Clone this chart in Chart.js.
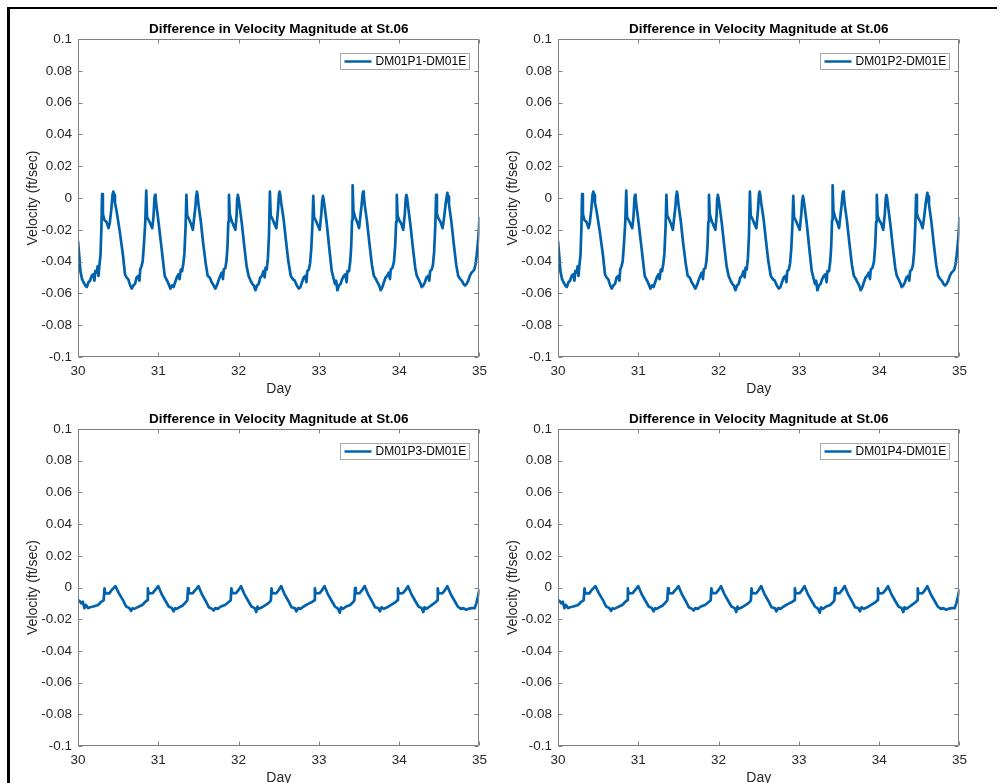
<!DOCTYPE html>
<html><head><meta charset="utf-8">
<script src="https://cdn.jsdelivr.net/npm/chart.js@4.4.1/dist/chart.umd.min.js"></script>
<style>
html,body{margin:0;padding:0;background:#fff;width:1000px;height:783px;overflow:hidden;position:relative;}
.frame{position:absolute;left:7px;top:7px;width:990px;height:800px;border-left:3px solid #000;border-top:2px solid #000;box-sizing:border-box;}
.panel{position:absolute;width:493px;height:388px;}
</style></head><body>
<div class="frame"></div>
<div class="panel" style="left:0;top:12px"><canvas id="c1"></canvas></div>
<div class="panel" style="left:480px;top:12px"><canvas id="c2"></canvas></div>
<div class="panel" style="left:0;top:402px;height:387px"><canvas id="c3"></canvas></div>
<div class="panel" style="left:480px;top:402px;height:387px"><canvas id="c4"></canvas></div>
<script>
// ---------------- DATA ----------------
const chartTitle = 'Difference in Velocity Magnitude at St.06';
const xAxisTitle = 'Day';
const yAxisTitle = 'Velocity (ft/sec)';
const seriesLabels = ['DM01P1-DM01E', 'DM01P2-DM01E', 'DM01P3-DM01E', 'DM01P4-DM01E'];
const xTickValues = [30, 31, 32, 33, 34, 35];
const xTickLabels = ['30', '31', '32', '33', '34', '35'];
const yTickValues = [-0.1, -0.08, -0.06, -0.04, -0.02, 0, 0.02, 0.04, 0.06, 0.08, 0.1];
const yTickLabels = ['-0.1', '-0.08', '-0.06', '-0.04', '-0.02', '0', '0.02', '0.04', '0.06', '0.08', '0.1'];

// time (day) for the upper panels
const dayTop = [
30.000,30.015,30.030,30.050,30.070,30.090,30.110,30.130,30.150,30.170,30.190,30.205,30.215,30.230,30.245,30.255,30.265,30.280,30.292,30.300,
30.310,30.330,30.355,30.380,30.395,30.415,30.430,30.440,30.450,30.460,30.480,30.520,30.560,30.585,30.605,30.625,30.650,30.670,30.690,30.710,30.730,30.750,30.765,30.775,30.790,30.805,30.820,30.838,30.850,
30.860,30.880,30.900,30.925,30.940,30.952,30.960,30.967,30.975,31.000,31.030,31.060,31.080,31.100,31.120,31.150,31.170,31.190,31.210,31.230,31.250,31.265,31.280,31.295,31.310,31.325,31.340,31.350,
31.360,31.380,31.405,31.430,31.450,31.465,31.473,31.480,31.489,31.500,31.530,31.560,31.590,31.615,31.640,31.665,31.690,31.710,31.730,31.750,31.770,31.790,31.805,31.815,31.835,31.850,31.862,31.872,31.880,
31.890,31.910,31.935,31.960,31.975,31.983,31.990,31.999,32.010,32.040,32.070,32.100,32.125,32.150,32.170,32.190,32.210,32.230,32.250,32.270,32.290,32.310,32.325,32.335,32.350,32.365,32.378,32.390,
32.400,32.420,32.445,32.470,32.490,32.502,32.510,32.519,32.530,32.560,32.590,32.620,32.650,32.675,32.700,32.725,32.750,32.770,32.790,32.810,32.830,32.845,32.855,32.875,32.890,32.905,32.920,32.930,
32.940,32.960,32.985,33.010,33.030,33.042,33.050,33.059,33.070,33.100,33.130,33.160,33.180,33.200,33.215,33.230,33.250,33.270,33.290,33.310,33.330,33.345,33.355,33.375,33.390,33.403,33.413,33.420,
33.430,33.450,33.475,33.500,33.520,33.535,33.543,33.550,33.559,33.570,33.600,33.630,33.660,33.685,33.710,33.730,33.750,33.770,33.790,33.810,33.830,33.850,33.870,33.885,33.895,33.915,33.935,33.950,33.962,33.970,
33.980,34.000,34.025,34.050,34.070,34.082,34.090,34.099,34.110,34.140,34.170,34.200,34.220,34.240,34.260,34.280,34.300,34.320,34.340,34.360,34.375,34.385,34.405,34.420,34.435,34.450,34.460,
34.470,34.490,34.515,34.540,34.560,34.580,34.592,34.600,34.609,34.620,34.650,34.680,34.710,34.735,34.760,34.780,34.800,34.820,34.840,34.860,34.880,34.900,34.920,34.935,34.950,34.965,34.980,34.990,35.000
];
const velP1 = [
-0.027,-0.036,-0.046,-0.051,-0.053,-0.055,-0.056,-0.053,-0.052,-0.049,-0.048,-0.052,-0.046,-0.047,-0.043,-0.049,-0.043,-0.036,-0.018,0.0025,
-0.010,-0.014,-0.015,-0.019,-0.016,-0.007,0.002,0.004,0.002,-0.003,-0.008,-0.021,-0.036,-0.048,-0.050,-0.051,-0.055,-0.057,-0.055,-0.054,-0.050,-0.049,-0.052,-0.045,-0.043,-0.040,-0.030,-0.015,0.0046,
-0.012,-0.014,-0.016,-0.019,-0.012,0.000,0.002,0.000,-0.004,-0.014,-0.027,-0.040,-0.049,-0.051,-0.053,-0.057,-0.055,-0.056,-0.053,-0.050,-0.048,-0.051,-0.045,-0.046,-0.042,-0.035,-0.018,0.002,
-0.011,-0.013,-0.016,-0.020,-0.011,-0.004,0.002,0.004,0.002,-0.004,-0.015,-0.029,-0.041,-0.049,-0.050,-0.053,-0.055,-0.057,-0.055,-0.052,-0.049,-0.047,-0.051,-0.045,-0.044,-0.039,-0.030,-0.015,0.002,
-0.010,-0.014,-0.017,-0.020,-0.011,0.000,0.002,0.000,-0.004,-0.016,-0.030,-0.043,-0.049,-0.052,-0.054,-0.055,-0.058,-0.055,-0.054,-0.050,-0.049,-0.046,-0.050,-0.044,-0.045,-0.038,-0.024,0.004,
-0.011,-0.013,-0.016,-0.019,-0.008,0.002,0.004,0.002,-0.003,-0.013,-0.027,-0.040,-0.049,-0.051,-0.052,-0.055,-0.057,-0.056,-0.053,-0.050,-0.049,-0.053,-0.046,-0.045,-0.041,-0.032,-0.016,0.0013,
-0.012,-0.014,-0.017,-0.020,-0.010,-0.001,0.0013,-0.001,-0.005,-0.017,-0.032,-0.046,-0.050,-0.054,-0.052,-0.058,-0.055,-0.054,-0.051,-0.049,-0.048,-0.053,-0.046,-0.046,-0.040,-0.030,-0.014,0.008,
-0.008,-0.012,-0.015,-0.019,-0.010,-0.003,0.002,0.004,0.002,-0.004,-0.015,-0.029,-0.042,-0.049,-0.051,-0.053,-0.055,-0.058,-0.056,-0.053,-0.050,-0.049,-0.047,-0.051,-0.045,-0.044,-0.040,-0.030,-0.015,0.002,
-0.011,-0.014,-0.016,-0.020,-0.010,0.000,0.002,0.000,-0.005,-0.017,-0.031,-0.044,-0.049,-0.051,-0.053,-0.056,-0.055,-0.053,-0.050,-0.049,-0.052,-0.046,-0.045,-0.042,-0.034,-0.017,0.002,
-0.010,-0.013,-0.015,-0.019,-0.012,-0.003,0.001,0.0033,0.001,-0.004,-0.015,-0.029,-0.042,-0.049,-0.051,-0.052,-0.054,-0.055,-0.054,-0.052,-0.049,-0.047,-0.046,-0.045,-0.042,-0.036,-0.028,-0.022,-0.012
];
const velP2 = [
-0.027,-0.036,-0.046,-0.051,-0.053,-0.055,-0.056,-0.053,-0.052,-0.049,-0.048,-0.052,-0.046,-0.047,-0.043,-0.049,-0.043,-0.036,-0.018,0.0025,
-0.010,-0.014,-0.015,-0.019,-0.016,-0.007,0.002,0.004,0.002,-0.003,-0.008,-0.021,-0.036,-0.048,-0.050,-0.051,-0.055,-0.057,-0.055,-0.054,-0.050,-0.049,-0.052,-0.045,-0.043,-0.040,-0.030,-0.015,0.0046,
-0.012,-0.014,-0.016,-0.019,-0.012,0.000,0.002,0.000,-0.004,-0.014,-0.027,-0.040,-0.049,-0.051,-0.053,-0.057,-0.055,-0.056,-0.053,-0.050,-0.048,-0.051,-0.045,-0.046,-0.042,-0.035,-0.018,0.002,
-0.011,-0.013,-0.016,-0.020,-0.011,-0.004,0.002,0.004,0.002,-0.004,-0.015,-0.029,-0.041,-0.049,-0.050,-0.053,-0.055,-0.057,-0.055,-0.052,-0.049,-0.047,-0.051,-0.045,-0.044,-0.039,-0.030,-0.015,0.002,
-0.010,-0.014,-0.017,-0.020,-0.011,0.000,0.002,0.000,-0.004,-0.016,-0.030,-0.043,-0.049,-0.052,-0.054,-0.055,-0.058,-0.055,-0.054,-0.050,-0.049,-0.046,-0.050,-0.044,-0.045,-0.038,-0.024,0.004,
-0.011,-0.013,-0.016,-0.019,-0.008,0.002,0.004,0.002,-0.003,-0.013,-0.027,-0.040,-0.049,-0.051,-0.052,-0.055,-0.057,-0.056,-0.053,-0.050,-0.049,-0.053,-0.046,-0.045,-0.041,-0.032,-0.016,0.0013,
-0.012,-0.014,-0.017,-0.020,-0.010,-0.001,0.0013,-0.001,-0.005,-0.017,-0.032,-0.046,-0.050,-0.054,-0.052,-0.058,-0.055,-0.054,-0.051,-0.049,-0.048,-0.053,-0.046,-0.046,-0.040,-0.030,-0.014,0.008,
-0.008,-0.012,-0.015,-0.019,-0.010,-0.003,0.002,0.004,0.002,-0.004,-0.015,-0.029,-0.042,-0.049,-0.051,-0.053,-0.055,-0.058,-0.056,-0.053,-0.050,-0.049,-0.047,-0.051,-0.045,-0.044,-0.040,-0.030,-0.015,0.002,
-0.011,-0.014,-0.016,-0.020,-0.010,0.000,0.002,0.000,-0.005,-0.017,-0.031,-0.044,-0.049,-0.051,-0.053,-0.056,-0.055,-0.053,-0.050,-0.049,-0.052,-0.046,-0.045,-0.042,-0.034,-0.017,0.002,
-0.010,-0.013,-0.015,-0.019,-0.012,-0.003,0.001,0.0033,0.001,-0.004,-0.015,-0.029,-0.042,-0.049,-0.051,-0.052,-0.054,-0.055,-0.054,-0.052,-0.049,-0.047,-0.046,-0.045,-0.042,-0.036,-0.028,-0.022,-0.012
];

// time (day) for the lower panels
const dayBottom = [
30.000,30.020,30.040,30.060,30.080,30.100,30.125,30.150,30.190,30.220,30.250,30.290,30.320,
30.330,30.340,30.390,30.420,30.440,30.465,30.510,30.560,30.600,30.640,30.660,30.680,30.700,30.720,30.760,30.800,30.840,30.860,
30.870,30.880,30.930,30.960,30.980,31.000,31.040,31.090,31.130,31.170,31.190,31.210,31.230,31.260,31.300,31.340,31.362,
31.370,31.380,31.430,31.460,31.480,31.500,31.540,31.590,31.630,31.670,31.690,31.710,31.740,31.780,31.830,31.880,31.902,
31.910,31.920,31.970,32.000,32.030,32.070,32.120,32.160,32.200,32.220,32.235,32.250,32.290,32.340,32.390,32.402,
32.410,32.420,32.470,32.500,32.530,32.570,32.620,32.660,32.700,32.720,32.740,32.770,32.810,32.860,32.920,32.942,
32.950,32.960,33.010,33.040,33.070,33.110,33.160,33.200,33.240,33.260,33.275,33.300,33.340,33.390,33.430,33.442,
33.450,33.460,33.510,33.540,33.570,33.610,33.660,33.700,33.740,33.760,33.780,33.810,33.850,33.900,33.960,33.978,
33.985,33.995,34.045,34.080,34.110,34.150,34.200,34.240,34.280,34.300,34.315,34.340,34.380,34.420,34.460,34.474,
34.480,34.490,34.540,34.570,34.600,34.640,34.690,34.730,34.770,34.800,34.830,34.860,34.900,34.940,34.960,34.980,35.000
];
const velP3 = [
-0.008,-0.0085,-0.010,-0.009,-0.013,-0.011,-0.013,-0.0125,-0.012,-0.0115,-0.011,-0.009,-0.008,
-0.0005,-0.0037,-0.0037,-0.0016,-0.0005,0.0009,-0.0037,-0.008,-0.012,-0.013,-0.0148,-0.013,-0.0135,-0.013,-0.012,-0.011,-0.009,-0.008,
-0.0005,-0.0037,-0.0035,-0.0016,-0.0004,0.0008,-0.004,-0.0085,-0.012,-0.013,-0.015,-0.013,-0.0135,-0.0125,-0.0115,-0.0095,-0.008,
-0.0006,-0.0038,-0.0036,-0.0017,-0.0005,0.0009,-0.004,-0.0085,-0.0125,-0.0135,-0.0145,-0.013,-0.0135,-0.012,-0.011,-0.009,-0.008,
-0.0005,-0.0036,-0.0035,-0.0015,0.0008,-0.004,-0.0085,-0.012,-0.013,-0.0155,-0.012,-0.0135,-0.0125,-0.011,-0.009,-0.008,
-0.0006,-0.0037,-0.0036,-0.0016,0.0009,-0.004,-0.0085,-0.0125,-0.013,-0.015,-0.013,-0.0135,-0.012,-0.0105,-0.009,-0.008,
-0.0005,-0.0037,-0.0035,-0.0016,0.0008,-0.004,-0.0085,-0.012,-0.0135,-0.016,-0.0125,-0.0135,-0.012,-0.011,-0.009,-0.008,
-0.0004,-0.0037,-0.0035,-0.0015,0.0009,-0.004,-0.0085,-0.0125,-0.013,-0.015,-0.0125,-0.0135,-0.0125,-0.011,-0.009,-0.008,
-0.0006,-0.0037,-0.0035,-0.0016,0.0008,-0.004,-0.0085,-0.012,-0.013,-0.0155,-0.0125,-0.0135,-0.012,-0.0105,-0.009,-0.008,
-0.0005,-0.0037,-0.0035,-0.0016,0.0008,-0.004,-0.0085,-0.012,-0.0135,-0.013,-0.014,-0.0135,-0.013,-0.013,-0.010,-0.006,-0.001
];
const velP4 = [
-0.008,-0.0085,-0.010,-0.009,-0.013,-0.011,-0.013,-0.0125,-0.012,-0.0115,-0.011,-0.009,-0.008,
-0.0005,-0.0037,-0.0037,-0.0016,-0.0005,0.0009,-0.0037,-0.008,-0.012,-0.013,-0.0148,-0.013,-0.0135,-0.013,-0.012,-0.011,-0.009,-0.008,
-0.0005,-0.0037,-0.0035,-0.0016,-0.0004,0.0008,-0.004,-0.0085,-0.012,-0.013,-0.015,-0.013,-0.0135,-0.0125,-0.0115,-0.0095,-0.008,
-0.0006,-0.0038,-0.0036,-0.0017,-0.0005,0.0009,-0.004,-0.0085,-0.0125,-0.0135,-0.0145,-0.013,-0.0135,-0.012,-0.011,-0.009,-0.008,
-0.0005,-0.0036,-0.0035,-0.0015,0.0008,-0.004,-0.0085,-0.012,-0.013,-0.0155,-0.012,-0.0135,-0.0125,-0.011,-0.009,-0.008,
-0.0006,-0.0037,-0.0036,-0.0016,0.0009,-0.004,-0.0085,-0.0125,-0.013,-0.015,-0.013,-0.0135,-0.012,-0.0105,-0.009,-0.008,
-0.0005,-0.0037,-0.0035,-0.0016,0.0008,-0.004,-0.0085,-0.012,-0.0135,-0.016,-0.0125,-0.0135,-0.012,-0.011,-0.009,-0.008,
-0.0004,-0.0037,-0.0035,-0.0015,0.0009,-0.004,-0.0085,-0.0125,-0.013,-0.015,-0.0125,-0.0135,-0.0125,-0.011,-0.009,-0.008,
-0.0006,-0.0037,-0.0035,-0.0016,0.0008,-0.004,-0.0085,-0.012,-0.013,-0.0155,-0.0125,-0.0135,-0.012,-0.0105,-0.009,-0.008,
-0.0005,-0.0037,-0.0035,-0.0016,0.0008,-0.004,-0.0085,-0.012,-0.0135,-0.013,-0.014,-0.0135,-0.013,-0.013,-0.010,-0.006,-0.001
];

// ---------------- STYLE ----------------
const FONT = "'Liberation Sans', Arial, Helvetica, sans-serif";
const LINE_COLOR = '#0062ad';
const AXIS_COLOR = '#808080';
const TEXT_COLOR = '#262626';
Chart.defaults.font.family = FONT;

const axesBox = {
  id: 'axesBox',
  afterDatasetsDraw(chart) {
    const {ctx, chartArea: a, scales: {x, y}} = chart;
    ctx.save();
    ctx.strokeStyle = AXIS_COLOR;
    ctx.lineWidth = 1;
    const L = Math.round(a.left) + 0.5, R = Math.round(a.right) - 0.5;
    const T = Math.round(a.top) + 0.5, B = Math.round(a.bottom) - 0.5;
    ctx.beginPath();
    ctx.rect(L, T, R - L, B - T);
    const tl = 4;
    x.ticks.forEach(t => {
      const px = Math.round(x.getPixelForValue(t.value)) + 0.5;
      ctx.moveTo(px, B); ctx.lineTo(px, B - tl);
      ctx.moveTo(px, T); ctx.lineTo(px, T + tl);
    });
    y.ticks.forEach(t => {
      const py = Math.round(y.getPixelForValue(t.value)) + 0.5;
      ctx.moveTo(L, py); ctx.lineTo(L + tl, py);
      ctx.moveTo(R, py); ctx.lineTo(R - tl, py);
    });
    ctx.stroke();

    // legend box (inside, top-right)
    const ds = chart.data.datasets[0];
    ctx.font = '12px ' + FONT;
    const tw = ctx.measureText(ds.label).width;
    const bw = Math.round(tw + 38), bh = 16;
    const bx = Math.round(a.right - 10 - bw) + 0.5, by = Math.round(a.top + 14) + 0.5;
    ctx.fillStyle = '#fff';
    ctx.fillRect(bx, by, bw, bh);
    ctx.strokeStyle = '#a8a8a8';
    ctx.lineWidth = 1;
    ctx.strokeRect(bx, by, bw, bh);
    ctx.beginPath();
    ctx.strokeStyle = ds.borderColor;
    ctx.lineWidth = 2.5;
    ctx.moveTo(bx + 4, by + bh / 2);
    ctx.lineTo(bx + 31, by + bh / 2);
    ctx.stroke();
    ctx.fillStyle = '#000';
    ctx.textBaseline = 'middle';
    ctx.textAlign = 'left';
    ctx.fillText(ds.label, bx + 35, by + bh / 2 + 0.5);
    ctx.restore();
  }
};

function makeChart(id, label, days, vals) {
  const pts = days.map((d, i) => ({x: d, y: vals[i]}));
  return new Chart(document.getElementById(id), {
    type: 'line',
    data: { datasets: [{ label, data: pts, borderColor: LINE_COLOR, borderWidth: 2.7, pointRadius: 0, tension: 0, fill: false, borderJoinStyle: 'round' }] },
    options: {
      responsive: true, maintainAspectRatio: false, animation: false, devicePixelRatio: 1,
      events: [],
      layout: { padding: { left: 0, right: 11, top: 0, bottom: 0 } },
      plugins: {
        legend: { display: false },
        tooltip: { enabled: false },
        title: { display: true, text: chartTitle, fullSize: false, color: '#000',
                 font: { size: 13.5, weight: 'bold', lineHeight: '16px' }, padding: { top: 9, bottom: 2 } }
      },
      scales: {
        x: {
          type: 'linear', min: 30, max: 35,
          afterBuildTicks: s => { s.ticks = xTickValues.map(v => ({value: v})); },
          afterFit: s => { s.height = 43; },
          ticks: { callback: (v, i) => xTickLabels[i], color: TEXT_COLOR, font: { size: 13.5 }, padding: 6, maxRotation: 0, autoSkip: false },
          grid: { display: false, drawTicks: false }, border: { display: false },
          title: { display: true, text: xAxisTitle, color: TEXT_COLOR, font: { size: 14, lineHeight: '16px' }, padding: { top: 0, bottom: 3 } }
        },
        y: {
          type: 'linear', min: -0.1, max: 0.1,
          afterBuildTicks: s => { s.ticks = yTickValues.map(v => ({value: v})); },
          afterFit: s => { s.width = 78; },
          ticks: { callback: (v, i) => yTickLabels[i], color: TEXT_COLOR, font: { size: 13.5 }, padding: 6, autoSkip: false },
          grid: { display: false, drawTicks: false }, border: { display: false },
          title: { display: true, text: yAxisTitle, color: TEXT_COLOR, font: { size: 14, lineHeight: '16px' }, padding: { top: 25, bottom: 0 } }
        }
      }
    },
    plugins: [axesBox]
  });
}

makeChart('c1', seriesLabels[0], dayTop, velP1);
makeChart('c2', seriesLabels[1], dayTop, velP2);
makeChart('c3', seriesLabels[2], dayBottom, velP3);
makeChart('c4', seriesLabels[3], dayBottom, velP4);
</script>
</body></html>
